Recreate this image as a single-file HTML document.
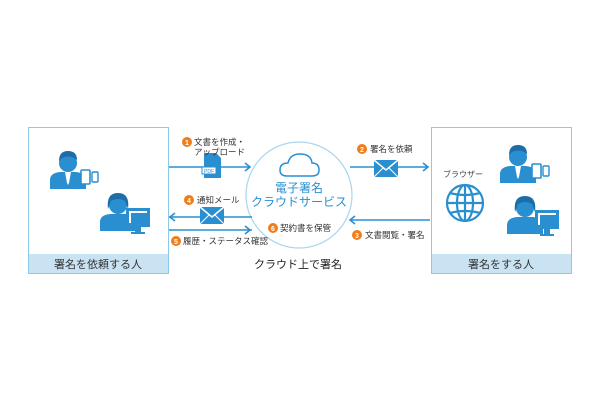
<!DOCTYPE html>
<html><head><meta charset="utf-8"><style>
body{margin:0;background:#fff;width:600px;height:400px;overflow:hidden}
svg text{font-family:"Liberation Sans","Noto Sans CJK JP",sans-serif}
</style></head><body>
<svg width="600" height="400" viewBox="0 0 600 400" xmlns="http://www.w3.org/2000/svg">
<defs>
<g id="man">
<circle cx="0" cy="0" r="9" fill="#2a8fd0"/>
<path d="M-9,-2 Q-9,-12 0,-12 Q9,-12 9,-3 L6,-5 Q0,-8 -6,-5 Z" fill="#1d6ea8"/>
<path d="M-18,26 L-18,17 Q-18,10 -8,9 L8,9 Q18,10 18,17 L18,26 Z" fill="#2a8fd0"/>
<path d="M-3,9 L3,9 L1,20 L0,22 L-1,20 Z" fill="#fff"/>
</g>
<g id="woman">
<circle cx="0" cy="0" r="9" fill="#2a8fd0"/>
<path d="M-10,4 Q-12,-12 0,-12 Q12,-12 10,4 L7,-4 Q0,-8 -7,-4 Z" fill="#1d6ea8"/>
<path d="M-18,26 L-18,17 Q-18,10 -8,9 L8,9 Q18,10 18,17 L18,26 Z" fill="#2a8fd0"/>
</g>
<g id="env">
<rect x="0" y="0" width="24" height="17" fill="#2a8fd0"/>
<path d="M0,0 L12,10 L24,0" fill="none" stroke="#fff" stroke-width="1.5"/>
<path d="M0,17 L9,8 M24,17 L15,8" stroke="#fff" stroke-width="1"/>
</g>
<g id="tab">
<rect x="0" y="0" width="9" height="14" rx="1" fill="#fff" stroke="#2a8fd0" stroke-width="1.6"/>
<rect x="11" y="2" width="6" height="10" rx="1" fill="#fff" stroke="#2a8fd0" stroke-width="1.4"/>
</g>
<g id="mon">
<rect x="0" y="0" width="24" height="19" fill="#2a8fd0"/>
<rect x="3" y="3" width="18" height="12" fill="#fff"/>
<rect x="5" y="5" width="16" height="10" fill="#2a8fd0"/>
<rect x="9" y="19" width="6" height="5" fill="#2a8fd0"/>
<rect x="5" y="24" width="14" height="2" fill="#2a8fd0"/>
</g>
</defs>

<rect x="28.5" y="127.5" width="140" height="146" fill="#fff" stroke="#8ccbe8"/>
<rect x="29" y="254" width="139" height="19" fill="#c9e3f3"/>
<text x="98" y="268" font-size="11" text-anchor="middle" fill="#333">署名を依頼する人</text>
<use href="#man" x="68" y="163"/>
<use href="#tab" x="81" y="170"/>
<use href="#woman" x="118" y="205"/>
<use href="#mon" x="126" y="208"/>

<rect x="431.5" y="127.5" width="140" height="146" fill="#fff" stroke="#8ccbe8"/>
<rect x="432" y="254" width="139" height="19" fill="#c9e3f3"/>
<text x="501" y="268" font-size="11" text-anchor="middle" fill="#333">署名をする人</text>
<use href="#man" x="518" y="157"/>
<use href="#tab" x="532" y="164"/>
<use href="#woman" x="525" y="208"/>
<use href="#mon" x="535" y="210"/>
<text x="443" y="177" font-size="8" fill="#444">ブラウザー</text>
<g fill="none" stroke="#2a8fd0" stroke-width="2.2">
<circle cx="465" cy="203" r="18"/>
<ellipse cx="465" cy="203" rx="8" ry="18"/>
<line x1="465" y1="185" x2="465" y2="221"/>
<line x1="447" y1="203" x2="483" y2="203"/>
<path d="M450,193 Q465,197 480,193 M450,213 Q465,209 480,213"/>
</g>

<circle cx="299" cy="195" r="53" fill="#fff" stroke="#a8d6ee" stroke-width="1.2"/>
<path d="M287,176 Q280,176 280,170 Q280,163 288,163 Q290,154 300,154 Q311,154 312,163 Q319,163 319,170 Q319,176 312,176 Z" fill="none" stroke="#2a8fd0" stroke-width="1.5"/>
<text x="299" y="192" font-size="12" text-anchor="middle" fill="#2a8fd0">電子署名</text>
<text x="299" y="206" font-size="12" text-anchor="middle" fill="#2a8fd0">クラウドサービス</text>
<circle cx="273" cy="228" r="5" fill="#ef7d1a"/><text x="273" y="231" font-size="7" text-anchor="middle" fill="#fff" font-weight="bold">6</text>
<text x="280" y="231" font-size="8.5" fill="#333">契約書を保管</text>
<text x="298" y="268" font-size="11" text-anchor="middle" fill="#222">クラウド上で署名</text>

<g stroke="#2a8fd0" stroke-width="1.6" fill="none">
<line x1="169" y1="167" x2="250" y2="167"/><path d="M245,163 L250,167 L245,171"/>
<line x1="169" y1="217" x2="252" y2="217"/><path d="M175,213 L170,217 L175,221"/>
<line x1="169" y1="230" x2="252" y2="230"/><path d="M245,226 L250,230 L245,234"/>
<line x1="350" y1="167" x2="428" y2="167"/><path d="M423,163 L428,167 L423,171"/>
<line x1="350" y1="220" x2="430" y2="220"/><path d="M355,216 L350,220 L355,224"/>
</g>
<path d="M204,153 L216,153 L221,158 L221,178 L204,178 Z" fill="#2a8fd0"/>
<rect x="202" y="167" width="14" height="7" fill="#fff" stroke="#2a8fd0"/>
<text x="209" y="173" font-size="5" text-anchor="middle" fill="#2a8fd0">PDF</text>
<use href="#env" x="200" y="207"/>
<use href="#env" x="374" y="160"/>

<g font-size="8.5" fill="#333">
<circle cx="187" cy="142" r="5" fill="#ef7d1a"/><text x="187" y="145" font-size="7" text-anchor="middle" fill="#fff" font-weight="bold">1</text>
<text x="194" y="145">文書を作成・</text>
<text x="194" y="155">アップロード</text>
<circle cx="189" cy="200" r="5" fill="#ef7d1a"/><text x="189" y="203" font-size="7" text-anchor="middle" fill="#fff" font-weight="bold">4</text>
<text x="197" y="203">通知メール</text>
<circle cx="176" cy="241" r="5" fill="#ef7d1a"/><text x="176" y="244" font-size="7" text-anchor="middle" fill="#fff" font-weight="bold">5</text>
<text x="183" y="244">履歴・ステータス確認</text>
<circle cx="362" cy="149" r="5" fill="#ef7d1a"/><text x="362" y="152" font-size="7" text-anchor="middle" fill="#fff" font-weight="bold">2</text>
<text x="370" y="152">署名を依頼</text>
<circle cx="357" cy="235" r="5" fill="#ef7d1a"/><text x="357" y="238" font-size="7" text-anchor="middle" fill="#fff" font-weight="bold">3</text>
<text x="365" y="238">文書閲覧・署名</text>
</g>
</svg>
</body></html>
